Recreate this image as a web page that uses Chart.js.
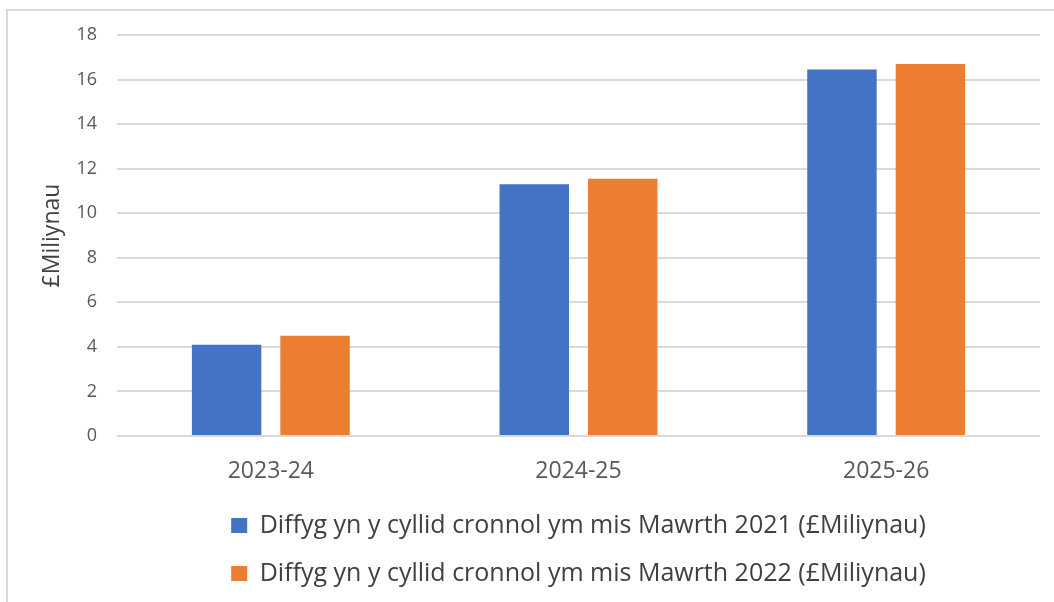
<!DOCTYPE html>
<html>
<head>
<meta charset="utf-8">
<script src="https://cdn.jsdelivr.net/npm/chart.js@4"></script>
<style>
  html, body { margin: 0; padding: 0; overflow: hidden; background: #fff; }
  #frame { position: absolute; left: 6px; top: 9px; width: 1100px; height: 700px; border: 2px solid #d9d9d9; }
  #wrap { position: absolute; left: 0; top: 0; width: 1054px; height: 596px; }
</style>
</head>
<body>
<div id="frame"></div>
<div id="wrap"><canvas id="myChart"></canvas></div>
<script>
var categories = ['2023-24', '2024-25', '2025-26'];
var deficit2021 = [4.1, 11.3, 16.45];
var deficit2022 = [4.5, 11.55, 16.7];
var seriesLabels = [
    'Diffyg yn y cyllid cronnol ym mis Mawrth 2021 (£Miliynau)',
    'Diffyg yn y cyllid cronnol ym mis Mawrth 2022 (£Miliynau)'
];
var yTicks = [0, 2, 4, 6, 8, 10, 12, 14, 16, 18];

var fontName = '"Open Sans", sans-serif';
var textColor = '#595959';

var ctx = document.getElementById('myChart').getContext('2d');
var myChart = new Chart(ctx, {
    type: 'bar',
    data: {
        labels: categories,
        datasets: [{
            label: seriesLabels[0],
            data: deficit2021,
            backgroundColor: '#4472C4',
            categoryPercentage: 0.575,
            barPercentage: 0.785
        }, {
            label: seriesLabels[1],
            data: deficit2022,
            backgroundColor: '#ED7D31',
            categoryPercentage: 0.575,
            barPercentage: 0.785
        }]
    },
    options: {
        responsive: true,
        maintainAspectRatio: false,
        animation: false,
        layout: {
            padding: { top: 35, right: 14, left: 0, bottom: 0 }
        },
        plugins: {
            tooltip: { enabled: false },
            legend: {
                position: 'bottom',
                fullSize: false,
                labels: {
                    color: '#404040',
                    font: { family: fontName, size: 25 },
                    boxWidth: 16,
                    boxHeight: 15,
                    padding: 23
                }
            }
        },
        scales: {
            x: {
                afterFit: function(scale) { scale.height = 54; },
                grid: { display: false, drawTicks: false },
                border: { display: false },
                ticks: {
                    color: textColor,
                    font: { family: fontName, size: 23 },
                    padding: 22
                }
            },
            y: {
                min: 0,
                max: 18,
                afterBuildTicks: function(scale) {
                    scale.ticks = yTicks.map(function(v) { return { value: v }; });
                },
                afterFit: function(scale) { scale.width = 117; },
                grid: { color: '#d9d9d9', lineWidth: 2, drawTicks: false },
                border: { display: false },
                ticks: {
                    color: textColor,
                    font: { family: fontName, size: 18 },
                    padding: 20
                },
                title: {
                    display: true,
                    text: '£Miliynau',
                    color: '#404040',
                    font: { family: fontName, size: 23 },
                    padding: { top: 39, bottom: 0 }
                }
            }
        }
    }
});
</script>
</body>
</html>
